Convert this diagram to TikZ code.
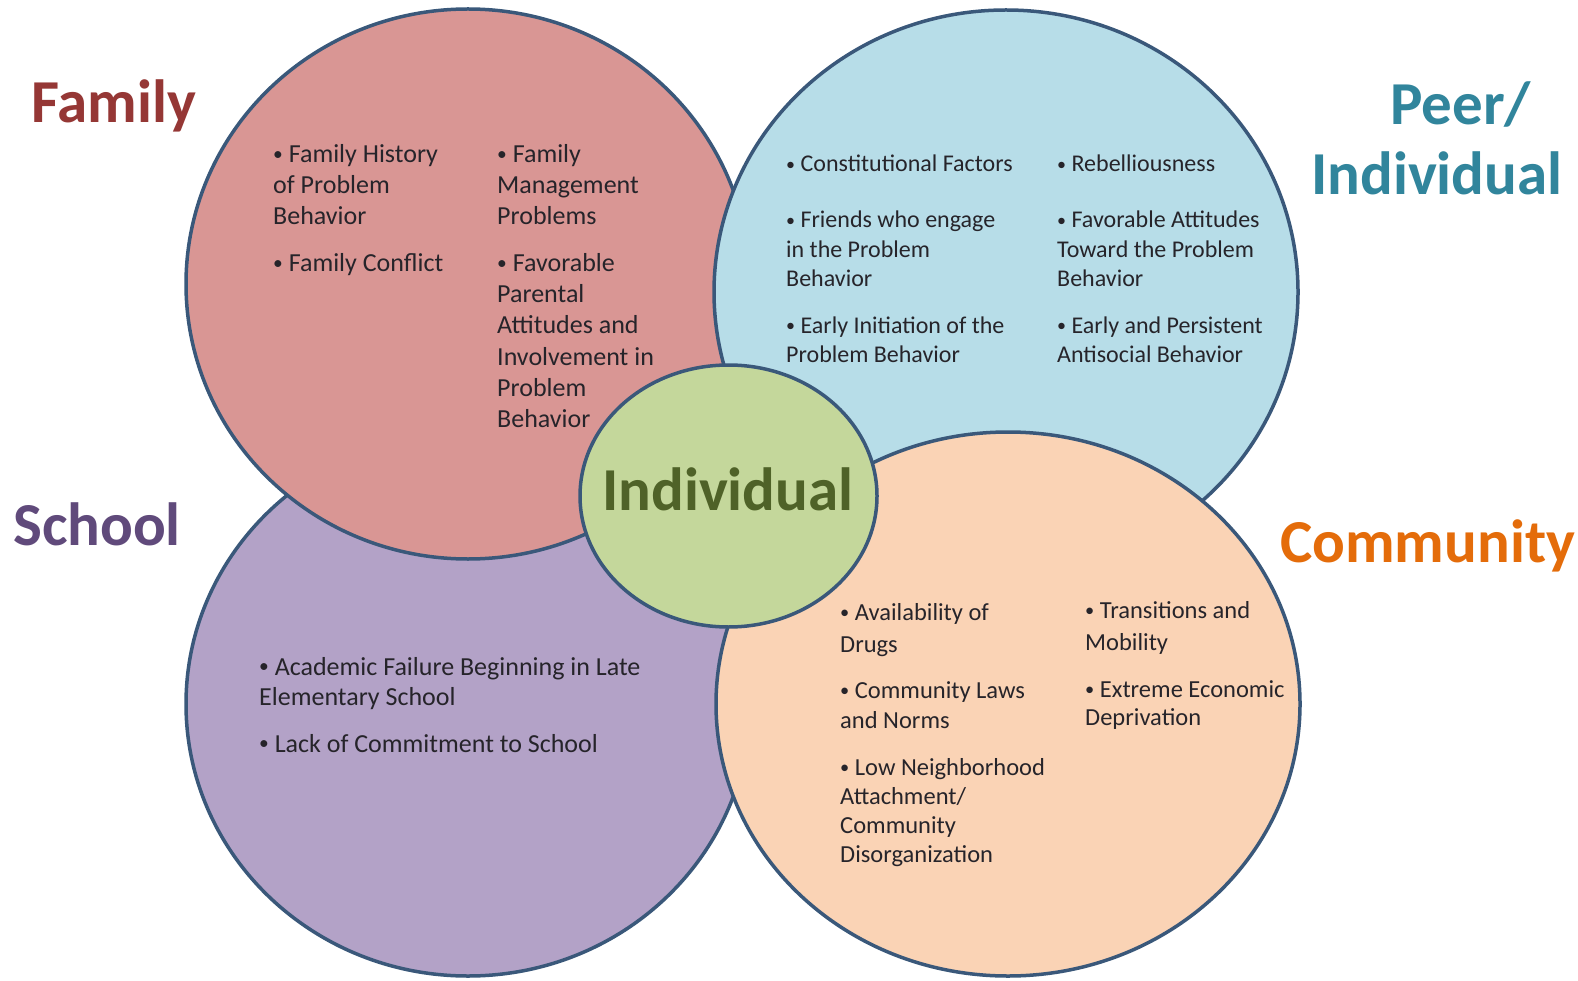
\documentclass[tikz,border=0pt]{standalone}
\usepackage{fontspec}
\setmainfont{Carlito}
\usetikzlibrary{shapes.geometric}
\definecolor{outl}{RGB}{58,88,122}
\definecolor{famfill}{RGB}{217,150,148}
\definecolor{peerfill}{RGB}{183,221,232}
\definecolor{schfill}{RGB}{179,162,199}
\definecolor{comfill}{RGB}{250,211,181}
\definecolor{indfill}{RGB}{196,215,155}
\definecolor{famtitle}{RGB}{149,55,53}
\definecolor{peertitle}{RGB}{49,133,156}
\definecolor{schtitle}{RGB}{96,74,123}
\definecolor{comtitle}{RGB}{228,108,10}
\definecolor{indtitle}{RGB}{79,98,40}
\definecolor{bodytext}{RGB}{38,36,42}
\newcommand\bul{\raisebox{0.08em}{\scalebox{0.75}{•}}}
\newcommand\txtblock[6]{%
  \foreach \l [count=\i] in {#6}{%
    \node[#1, anchor=base west] (#2-\i) at (#3, {#4+(\i-1)*#5}) {\l};
  }%
}
\begin{document}
\begin{tikzpicture}[x=1pt,y=-1pt,
  blob/.style={ellipse, draw=outl, line width=3.5pt, inner sep=0pt, outer sep=0pt},
  bigtxt/.style={inner sep=0pt, font=\fontsize{26}{31}\selectfont, text=bodytext},
  smtxt/.style={inner sep=0pt, font=\fontsize{24}{29}\selectfont, text=bodytext},
  cmtxt/.style={inner sep=0pt, font=\fontsize{24.5}{30}\selectfont, text=bodytext},
  title/.style={inner sep=0pt, font=\fontsize{61}{70}\bfseries\selectfont, anchor=base west}]
\useasboundingbox (0,0) rectangle (1578,981);
\fill[white] (0,0) rectangle (1578,981);
% circles
\node[blob, fill=schfill, minimum width=564pt, minimum height=544pt] (school) at (468,704) {};
\node[blob, fill=famfill, minimum width=564pt, minimum height=550pt] (family) at (468,284) {};
\node[blob, fill=peerfill, minimum width=584pt, minimum height=564pt] (peer) at (1006,292) {};
\node[blob, fill=comfill, minimum width=584pt, minimum height=544pt] (comm) at (1008,704) {};
\node[blob, fill=indfill, minimum width=297pt, minimum height=262pt] (ind) at (728.5,496) {};
% titles
\node[title, text=famtitle] (tfam) at (31,123) {Family};
\node[title, text=peertitle] (tpeer1) at (1390,125) {Peer/};
\node[title, text=peertitle] (tpeer2) at (1311,195) {Individual};
\node[title, text=schtitle] (tsch) at (13,545) {School};
\node[title, text=comtitle] (tcom) at (1280,562) {Community};
\node[title, text=indtitle] (tind) at (602,510) {Individual};
% family
\txtblock{bigtxt}{fa}{273}{163}{31}{\bul\ Family History, of Problem, Behavior}
\txtblock{bigtxt}{fb}{273}{272}{31}{\bul\ Family Conflict}
\txtblock{bigtxt}{fc}{497}{163}{31}{\bul\ Family, Management, Problems}
\txtblock{bigtxt}{fd}{497}{272}{31}{\bul\ Favorable, Parental, Attitudes and, Involvement in, Problem, Behavior}
% peer
\txtblock{smtxt}{pa}{786}{172}{29}{\bul\ Constitutional Factors}
\txtblock{smtxt}{pb}{786}{228}{29.5}{\bul\ Friends who engage, in the Problem, Behavior}
\txtblock{smtxt}{pc}{786}{333}{29}{\bul\ Early Initiation of the, Problem Behavior}
\txtblock{smtxt}{pd}{1057}{172}{29}{\bul\ Rebelliousness}
\txtblock{smtxt}{pe}{1057}{228}{29.5}{\bul\ Favorable Attitudes, Toward the Problem, Behavior}
\txtblock{smtxt}{pf}{1057}{333}{29}{\bul\ Early and Persistent, Antisocial Behavior}
% school
\txtblock{bigtxt}{sa}{259}{675}{30}{\bul\ Academic Failure Beginning in Late, Elementary School}
\txtblock{bigtxt}{sb}{259}{752}{30}{\bul\ Lack of Commitment to School}
% community
\txtblock{cmtxt}{ca}{840}{620}{32}{\bul\ Availability of, Drugs}
\txtblock{cmtxt}{cb}{840}{698}{30}{\bul\ Community Laws, and Norms}
\txtblock{cmtxt}{cc}{840}{775}{29}{\bul\ Low Neighborhood, Attachment/, Community, Disorganization}
\txtblock{cmtxt}{cd}{1085}{618}{32}{\bul\ Transitions and, Mobility}
\txtblock{cmtxt}{ce}{1085}{697}{28}{\bul\ Extreme Economic, Deprivation}
\end{tikzpicture}
\end{document}
